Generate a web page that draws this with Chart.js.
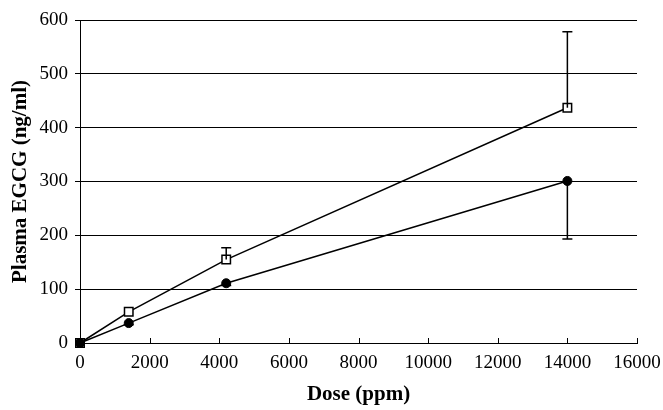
<!DOCTYPE html>
<html>
<head>
<meta charset="utf-8">
<script src="https://cdn.jsdelivr.net/npm/chart.js@4/dist/chart.umd.min.js"></script>
<style>
  html, body { margin: 0; padding: 0; background: #fff; }
  #wrap { width: 663px; height: 410px; }
</style>
</head>
<body>
<div id="wrap"><canvas id="chart" width="663" height="410"></canvas></div>
<script>
// Doses (ppm) and plasma EGCG (ng/ml)
var doses = [0, 1400, 4200, 14000];
var squareValues = [0, 58, 155, 437];
var circleValues = [0, 37, 111, 301];
// one-sided error bars: squares go up, circles go down
var squareErrUp = [0, 0, 22, 141];
var circleErrDown = [0, 3, 4, 108];

var xTicks = [0, 2000, 4000, 6000, 8000, 10000, 12000, 14000, 16000];
var yTicks = [0, 100, 200, 300, 400, 500, 600];

function points(values) {
  return doses.map((d, i) => ({ x: d, y: values[i] }));
}

// Draw the error bars and the inward x tick marks
var extrasPlugin = {
  id: 'extras',
  afterDatasetsDraw: function (chart) {
    var ctx = chart.ctx;
    var xs = chart.scales.x, ys = chart.scales.y;
    ctx.save();
    ctx.strokeStyle = '#000';
    ctx.lineWidth = 1.5;
    function bar(x, y0, y1) {
      var px = xs.getPixelForValue(x);
      var p0 = ys.getPixelForValue(y0), p1 = ys.getPixelForValue(y1);
      ctx.beginPath();
      ctx.moveTo(px, p0); ctx.lineTo(px, p1);
      ctx.moveTo(px - 5, p1); ctx.lineTo(px + 5, p1);
      ctx.stroke();
    }
    doses.forEach((d, i) => {
      if (squareErrUp[i] > 0) bar(d, squareValues[i], squareValues[i] + squareErrUp[i]);
      if (circleErrDown[i] > 0) bar(d, circleValues[i], circleValues[i] - circleErrDown[i]);
    });
    // x ticks pointing up into the plot
    ctx.lineWidth = 1;
    var base = ys.getPixelForValue(0);
    xTicks.forEach(t => {
      var px = Math.round(xs.getPixelForValue(t)) + 0.5;
      ctx.beginPath();
      ctx.moveTo(px, base); ctx.lineTo(px, base - 5);
      ctx.stroke();
    });
    ctx.restore();
  }
};

Chart.defaults.font.family = '"Liberation Serif", "Times New Roman", serif';
Chart.defaults.color = '#000';

new Chart(document.getElementById('chart').getContext('2d'), {
  type: 'scatter',
  data: {
    datasets: [
      {
        label: 'Squares',
        data: points(squareValues),
        order: 1,
        showLine: true,
        clip: false,
        borderColor: '#000',
        borderWidth: 1.5,
        pointStyle: 'rect',
        pointRadius: 6,
        pointBackgroundColor: '#fff',
        pointBorderColor: '#000',
        pointBorderWidth: 1.5
      },
      {
        label: 'Circles',
        data: points(circleValues),
        order: 0,
        showLine: true,
        clip: false,
        borderColor: '#000',
        borderWidth: 1.5,
        pointStyle: 'circle',
        pointRadius: 4.5,
        pointBackgroundColor: '#000',
        pointBorderColor: '#000',
        pointBorderWidth: 1
      }
    ]
  },
  options: {
    responsive: false,
    animation: false,
    layout: { padding: { top: 20, right: 26, left: 0, bottom: 0 } },
    plugins: {
      legend: { display: false },
      tooltip: { enabled: false }
    },
    scales: {
      x: {
        type: 'linear',
        min: 0,
        max: 16000,
        afterBuildTicks: function (axis) { axis.ticks = xTicks.map(v => ({ value: v })); },
        afterFit: function (axis) {
          axis.height = 67;
          axis.paddingRight = 0;
          axis.paddingLeft = 0;
        },
        grid: { display: true, drawOnChartArea: false, drawTicks: false, color: '#000' },
        border: { display: true, color: '#000', width: 1 },
        ticks: { font: { size: 19 }, padding: 9, maxRotation: 0, callback: v => String(v) },
        title: {
          display: true,
          text: 'Dose (ppm)',
          font: { size: 21, weight: 'bold' },
          padding: { top: 4, bottom: 3 }
        }
      },
      y: {
        min: 0,
        max: 600,
        afterBuildTicks: function (axis) { axis.ticks = yTicks.map(v => ({ value: v })); },
        afterFit: function (axis) { axis.width = 80; },
        grid: { color: '#000', lineWidth: 1, tickLength: 5 },
        border: { display: true, color: '#000', width: 1 },
        ticks: { font: { size: 19 }, padding: 7, callback: v => String(v) },
        title: {
          display: true,
          text: 'Plasma EGCG (ng/ml)',
          font: { size: 21, weight: 'bold' },
          padding: { top: 8, bottom: 2 }
        }
      }
    }
  },
  plugins: [extrasPlugin]
});
</script>
</body>
</html>
